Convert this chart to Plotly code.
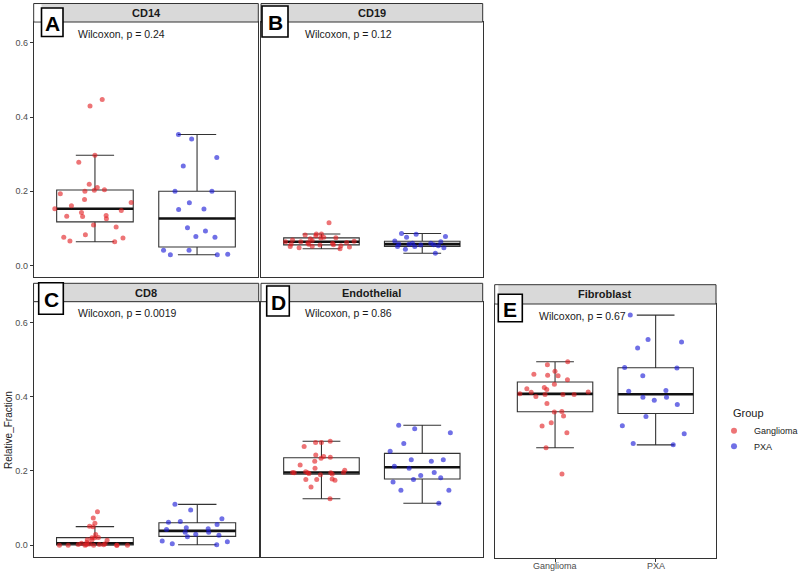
import numpy as np
import plotly.graph_objects as go

# ---------------- data ----------------
groups = ["Ganglioma", "PXA"]
cell_types = ["CD14", "CD19", "CD8", "Endothelial", "Fibroblast"]
panel_letters = ["A", "B", "C", "D", "E"]
p_values = ["0.24", "0.12", "0.0019", "0.86", "0.67"]

cd14_ganglioma = [0.447, 0.430, 0.297, 0.278, 0.219, 0.200, 0.203, 0.210, 0.204, 0.193,
                  0.161, 0.178, 0.170, 0.153, 0.143, 0.148, 0.135, 0.132, 0.133, 0.126,
                  0.109, 0.104, 0.074, 0.066, 0.083, 0.076, 0.064]
cd14_pxa = [0.353, 0.341, 0.291, 0.268, 0.200, 0.200, 0.169, 0.152, 0.151, 0.102,
            0.093, 0.078, 0.076, 0.041, 0.041, 0.029, 0.029, 0.030]

cd19_ganglioma = [0.115, 0.085, 0.085, 0.082, 0.080, 0.076, 0.075, 0.074, 0.072, 0.069,
                  0.067, 0.065, 0.064, 0.064, 0.062, 0.061, 0.060, 0.058, 0.057, 0.056,
                  0.055, 0.053, 0.052, 0.051, 0.050, 0.048, 0.045]
cd19_pxa = [0.086, 0.084, 0.078, 0.076, 0.066, 0.064, 0.060, 0.060, 0.058, 0.057,
            0.056, 0.055, 0.053, 0.051, 0.051, 0.0475, 0.044, 0.033]

cd8_ganglioma = [0.090, 0.073, 0.059, 0.051, 0.050, 0.029, 0.021, 0.020, 0.020, 0.015,
                 0.014, 0.013, 0.007, 0.005, 0.004, 0.003, 0.002, 0.002, 0.001, 0.001,
                 0.0, 0.0, 0.0, 0.0, 0.0, 0.0, 0.0]
cd8_pxa = [0.110, 0.095, 0.071, 0.064, 0.062, 0.056, 0.047, 0.044, 0.042, 0.035,
           0.035, 0.0295, 0.027, 0.0225, 0.011, 0.009, 0.0037, 0.001]

endothelial_ganglioma = [0.280, 0.277, 0.277, 0.266, 0.243, 0.239, 0.237, 0.234, 0.226, 0.216,
                         0.207, 0.198, 0.193, 0.195, 0.202, 0.195, 0.195, 0.196, 0.196, 0.190,
                         0.192, 0.177, 0.178, 0.175, 0.177, 0.157, 0.125]
endothelial_pxa = [0.323, 0.314, 0.303, 0.274, 0.253, 0.230, 0.230, 0.226, 0.213, 0.207,
                   0.196, 0.188, 0.182, 0.177, 0.170, 0.148, 0.148, 0.113]

fibroblast_ganglioma = [0.500, 0.492, 0.474, 0.466, 0.462, 0.463, 0.451, 0.439, 0.430, 0.427,
                        0.425, 0.418, 0.417, 0.411, 0.413, 0.406, 0.411, 0.411, 0.387, 0.364,
                        0.365, 0.353, 0.335, 0.326, 0.308, 0.267, 0.196]
fibroblast_pxa = [0.626, 0.560, 0.553, 0.537, 0.484, 0.483, 0.462, 0.422, 0.420, 0.404,
                  0.404, 0.396, 0.384, 0.352, 0.327, 0.305, 0.279, 0.275]

y_ticks = [0.0, 0.2, 0.4, 0.6]
y_tick_labels = ["0.0", "0.2", "0.4", "0.6"]

series = {
    "CD14": (cd14_ganglioma, cd14_pxa),
    "CD19": (cd19_ganglioma, cd19_pxa),
    "CD8": (cd8_ganglioma, cd8_pxa),
    "Endothelial": (endothelial_ganglioma, endothelial_pxa),
    "Fibroblast": (fibroblast_ganglioma, fibroblast_pxa),
}

# ---------------- styling / layout ----------------
W, H = 800, 573
FONT = "Liberation Sans, Arial, sans-serif"
point_colors = ["rgba(226,30,34,0.62)", "rgba(25,25,215,0.62)"]
BORDER = "#333333"
TICKGRAY = "#4d4d4d"


def px(x):
    return x / W


def py(y):
    return 1 - y / H


# pixel geometry of panels: x0, x1, strip_top, plot_top, plot_bottom, label box (x0,x1,y0,y1)
geom = [
    dict(x0=33.7, x1=258.3, st=3.5, top=22.0, bot=277.0, lab=(41.5, 63.0, 8.0, 36.5)),
    dict(x0=261.0, x1=482.7, st=3.5, top=22.0, bot=277.0, lab=(262.0, 288.0, 6.0, 37.0)),
    dict(x0=33.5, x1=258.7, st=283.3, top=301.7, bot=556.7, lab=(38.7, 63.3, 282.7, 314.3)),
    dict(x0=261.0, x1=482.7, st=283.3, top=301.7, bot=556.7, lab=(266.7, 289.3, 286.0, 316.0)),
    dict(x0=494.7, x1=716.0, st=284.7, top=304.0, bot=558.0, lab=(498.3, 522.3, 294.3, 321.7)),
]
YRANGE = [-0.031, 0.656]


def box_stats(v):
    a = np.sort(np.asarray(v, dtype=float))
    q1, med, q3 = np.percentile(a, [25, 50, 75])
    iqr = q3 - q1
    lo = a[a >= q1 - 1.5 * iqr].min()
    hi = a[a <= q3 + 1.5 * iqr].max()
    return q1, med, q3, lo, hi


fig = go.Figure()
layout = dict(
    width=W, height=H, margin=dict(l=0, r=0, t=0, b=0, pad=0, autoexpand=False),
    paper_bgcolor="white", plot_bgcolor="white",
    boxmode="overlay", font=dict(family=FONT, color="#1a1a1a"),
)
shapes = []
annotations = []

for i, ct in enumerate(cell_types):
    g = geom[i]
    n = i + 1
    xa = "x" if n == 1 else f"x{n}"
    ya = "y" if n == 1 else f"y{n}"
    xkey = "xaxis" if n == 1 else f"xaxis{n}"
    ykey = "yaxis" if n == 1 else f"yaxis{n}"
    show_y = i in (0, 2)
    show_x = i == 4
    layout[xkey] = dict(
        domain=[px(g["x0"]), px(g["x1"])], anchor=ya, type="category",
        categoryorder="array", categoryarray=groups, range=[-0.6, 1.6],
        showline=True, mirror=True, linecolor=BORDER, linewidth=1,
        showgrid=False, zeroline=False, automargin=False,
        ticks="outside" if show_x else "", ticklen=3, tickcolor=BORDER,
        showticklabels=False, fixedrange=True,
    )
    layout[ykey] = dict(
        domain=[py(g["bot"]), py(g["top"])], anchor=xa, range=YRANGE,
        showline=True, mirror=True, linecolor=BORDER, linewidth=1,
        showgrid=False, zeroline=False, automargin=False,
        tickvals=y_ticks, ticktext=y_tick_labels,
        ticks="outside" if show_y else "", ticklen=3, tickcolor=BORDER,
        showticklabels=show_y, tickfont=dict(size=9, color=TICKGRAY, family=FONT),
        fixedrange=True,
    )

    for gi, grp in enumerate(groups):
        vals = series[ct][gi]
        q1, med, q3, lo, hi = box_stats(vals)
        # box with whiskers
        fig.add_trace(go.Box(
            x=[grp], q1=[q1], median=[med], q3=[q3], lowerfence=[lo], upperfence=[hi],
            orientation="v", width=0.75, boxpoints=False,
            line=dict(color=BORDER, width=1.1), fillcolor="white",
            xaxis=xa, yaxis=ya, showlegend=False, hoverinfo="skip",
        ))
        # thick median
        fig.add_trace(go.Box(
            x=[grp], q1=[med], median=[med], q3=[med], lowerfence=[med], upperfence=[med],
            orientation="v", width=0.75, boxpoints=False,
            line=dict(color="#111111", width=2.6), fillcolor="rgba(0,0,0,0)",
            xaxis=xa, yaxis=ya, showlegend=False, hoverinfo="skip",
        ))
        # jittered points
        fig.add_trace(go.Box(
            x=[grp] * len(vals), y=vals, orientation="v", width=0.82,
            boxpoints="all", jitter=1, pointpos=0,
            line=dict(color="rgba(0,0,0,0)", width=0), fillcolor="rgba(0,0,0,0)",
            marker=dict(color=point_colors[gi], size=5, line=dict(width=0)),
            xaxis=xa, yaxis=ya, showlegend=False, hoverinfo="skip",
        ))

    # x tick labels (bottom panel E only)
    if show_x:
        for grp in groups:
            annotations.append(dict(text=grp, xref=xa, yref="paper", x=grp, y=py(565.7),
                                    xanchor="center", yanchor="middle", showarrow=False,
                                    font=dict(size=9, color=TICKGRAY, family=FONT)))

    # strip
    shapes.append(dict(type="rect", xref="paper", yref="paper",
                       x0=px(g["x0"]), x1=px(g["x1"]), y0=py(g["top"]), y1=py(g["st"]),
                       fillcolor="#d9d9d9", line=dict(color=BORDER, width=1), layer="above"))
    annotations.append(dict(text=f"<b>{ct}</b>", xref="paper", yref="paper",
                            x=px((g["x0"] + g["x1"]) / 2), y=py((g["st"] + g["top"]) / 2),
                            xanchor="center", yanchor="middle", showarrow=False,
                            font=dict(size=11, color="#1a1a1a", family=FONT)))
    # Wilcoxon label
    annotations.append(dict(text=f"Wilcoxon, p = {p_values[i]}", xref="paper", yref="paper",
                            x=px(g["x0"] + 42), y=py(g["top"] + 11.5),
                            xanchor="left", yanchor="middle", showarrow=False,
                            font=dict(size=10.5, color="#1a1a1a", family=FONT)))
    # panel letter box
    lx0, lx1, ly0, ly1 = g["lab"]
    if lx0 - g["x0"] > 2:
        shapes.append(dict(type="rect", xref="paper", yref="paper",
                           x0=px(g["x0"] + 0.8), x1=px(lx0), y0=py(g["top"] - 0.7), y1=py(g["st"] + 0.7),
                           fillcolor="white", line=dict(width=0), layer="above"))
    shapes.append(dict(type="rect", xref="paper", yref="paper",
                       x0=px(lx0), x1=px(lx1), y0=py(ly1), y1=py(ly0),
                       fillcolor="white", line=dict(color="black", width=1.6), layer="above"))
    annotations.append(dict(text=f"<b>{panel_letters[i]}</b>", xref="paper", yref="paper",
                            x=px((lx0 + lx1) / 2), y=py((ly0 + ly1) / 2 + 1),
                            xanchor="center", yanchor="middle", showarrow=False,
                            font=dict(size=21, color="black", family=FONT)))

# legend entries (legend-only traces)
for gi, grp in enumerate(groups):
    fig.add_trace(go.Scatter(
        x=[None], y=[None], mode="markers", name=grp,
        marker=dict(color=point_colors[gi], size=6),
        xaxis="x5", yaxis="y5", showlegend=True,
        legend="legend" if gi == 0 else "legend2",
    ))

leg_common = dict(xanchor="left", yanchor="middle", bgcolor="rgba(0,0,0,0)",
                  font=dict(size=9, color="#1a1a1a", family=FONT), itemclick=False,
                  itemdoubleclick=False)
layout["legend"] = dict(x=px(714), y=py(430.7), **leg_common)
layout["legend2"] = dict(x=px(714), y=py(446.3), **leg_common)

annotations.append(dict(text="Group", xref="paper", yref="paper", x=px(731), y=py(413),
                        xanchor="left", yanchor="middle", showarrow=False,
                        font=dict(size=11, color="#1a1a1a", family=FONT)))
annotations.append(dict(text="Relative_Fraction", xref="paper", yref="paper",
                        x=px(8), y=py(430), textangle=-90,
                        xanchor="center", yanchor="middle", showarrow=False,
                        font=dict(size=10, color="#1a1a1a", family=FONT)))

layout["shapes"] = shapes
layout["annotations"] = annotations
fig.update_layout(**layout)

# remove the default 8px page margin so the figure sits at the window's top-left corner
fig.write_html("out.html",
               config={"displayModeBar": False, "staticPlot": True},
               post_script="document.body.style.margin='0px';document.body.style.overflow='hidden';")
